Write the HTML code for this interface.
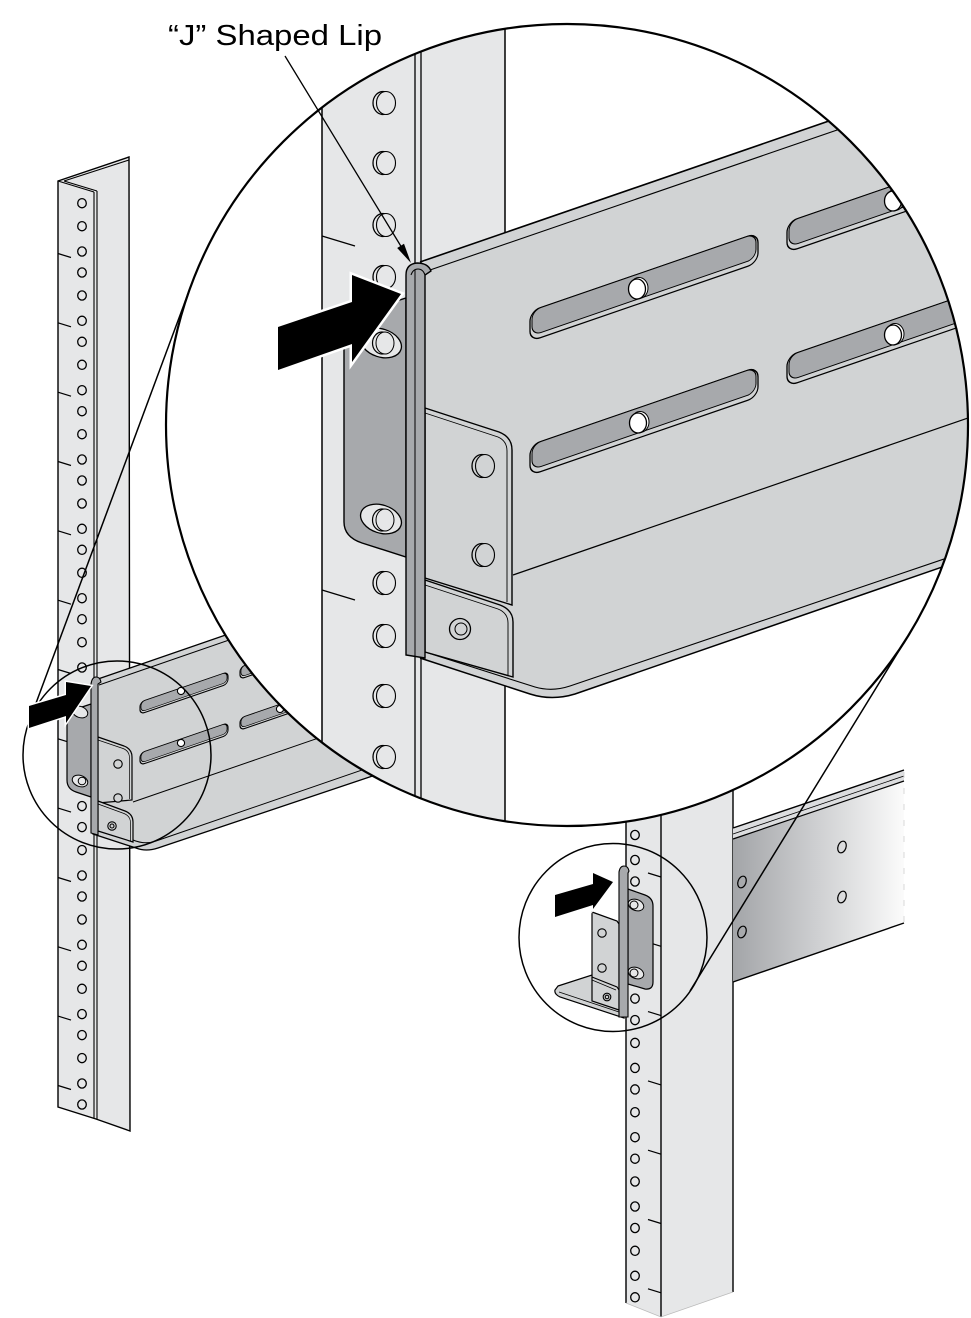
<!DOCTYPE html>
<html><head><meta charset="utf-8">
<style>html,body{margin:0;padding:0;background:#fff;}svg{display:block}</style></head>
<body>
<svg width="971" height="1318" viewBox="0 0 971 1318" xmlns="http://www.w3.org/2000/svg">
<defs>
<clipPath id="bc"><circle cx="567" cy="425" r="401"/></clipPath>
<linearGradient id="rg" x1="0" x2="1" y1="0" y2="0">
<stop offset="0" stop-color="#a3a5a8"/><stop offset="0.5" stop-color="#cfd0d2"/><stop offset="1" stop-color="#fbfbfb"/>
</linearGradient>
</defs>
<rect width="971" height="1318" fill="#fff"/>

<!-- LEFT POST -->
<polygon points="58,181 129,157 130,1131 96,1119 58,1107" fill="#e6e7e8" stroke="#000" stroke-width="1.4"/>
<g stroke="#000" fill="none" stroke-width="1.1">
<line x1="64" y1="181" x2="129" y2="160"/>
<line x1="58" y1="181" x2="94" y2="192"/>
<line x1="64" y1="181" x2="97" y2="191"/>
<line x1="94" y1="192" x2="94" y2="1118"/>
<line x1="97" y1="191" x2="97" y2="1119"/>
</g>
<g stroke="#000" fill="none" stroke-width="1.3">
<ellipse cx="82" cy="203.2" rx="4.3" ry="4.6"/><ellipse cx="82" cy="226.2" rx="4.3" ry="4.6"/>
<ellipse cx="82" cy="251.5" rx="4.3" ry="4.6"/><ellipse cx="82" cy="272.5" rx="4.3" ry="4.6"/><ellipse cx="82" cy="295.5" rx="4.3" ry="4.6"/>
<ellipse cx="82" cy="320.8" rx="4.3" ry="4.6"/><ellipse cx="82" cy="341.8" rx="4.3" ry="4.6"/><ellipse cx="82" cy="364.8" rx="4.3" ry="4.6"/>
<ellipse cx="82" cy="390.2" rx="4.3" ry="4.6"/><ellipse cx="82" cy="411.2" rx="4.3" ry="4.6"/><ellipse cx="82" cy="434.2" rx="4.3" ry="4.6"/>
<ellipse cx="82" cy="459.5" rx="4.3" ry="4.6"/><ellipse cx="82" cy="480.5" rx="4.3" ry="4.6"/><ellipse cx="82" cy="503.5" rx="4.3" ry="4.6"/>
<ellipse cx="82" cy="528.8" rx="4.3" ry="4.6"/><ellipse cx="82" cy="549.8" rx="4.3" ry="4.6"/><ellipse cx="82" cy="572.8" rx="4.3" ry="4.6"/>
<ellipse cx="82" cy="598.2" rx="4.3" ry="4.6"/><ellipse cx="82" cy="619.2" rx="4.3" ry="4.6"/><ellipse cx="82" cy="642.2" rx="4.3" ry="4.6"/>
<ellipse cx="82" cy="667.5" rx="4.3" ry="4.6"/><ellipse cx="82" cy="688.5" rx="4.3" ry="4.6"/><ellipse cx="82" cy="711.5" rx="4.3" ry="4.6"/>
<ellipse cx="82" cy="736.8" rx="4.3" ry="4.6"/><ellipse cx="82" cy="757.8" rx="4.3" ry="4.6"/><ellipse cx="82" cy="780.8" rx="4.3" ry="4.6"/>
<ellipse cx="82" cy="806.1" rx="4.3" ry="4.6"/><ellipse cx="82" cy="827.1" rx="4.3" ry="4.6"/><ellipse cx="82" cy="850.1" rx="4.3" ry="4.6"/>
<ellipse cx="82" cy="875.5" rx="4.3" ry="4.6"/><ellipse cx="82" cy="896.5" rx="4.3" ry="4.6"/><ellipse cx="82" cy="919.5" rx="4.3" ry="4.6"/>
<ellipse cx="82" cy="944.8" rx="4.3" ry="4.6"/><ellipse cx="82" cy="965.8" rx="4.3" ry="4.6"/><ellipse cx="82" cy="988.8" rx="4.3" ry="4.6"/>
<ellipse cx="82" cy="1014.1" rx="4.3" ry="4.6"/><ellipse cx="82" cy="1035.1" rx="4.3" ry="4.6"/><ellipse cx="82" cy="1058.1" rx="4.3" ry="4.6"/>
<ellipse cx="82" cy="1083.5" rx="4.3" ry="4.6"/><ellipse cx="82" cy="1104.5" rx="4.3" ry="4.6"/>
</g>
<g stroke="#000" stroke-width="1.2">
<line x1="58" y1="253.5" x2="71" y2="257.5"/><line x1="58" y1="322.8" x2="71" y2="326.8"/>
<line x1="58" y1="392.2" x2="71" y2="396.2"/><line x1="58" y1="461.5" x2="71" y2="465.5"/>
<line x1="58" y1="530.8" x2="71" y2="534.8"/><line x1="58" y1="600.2" x2="71" y2="604.2"/>
<line x1="58" y1="669.5" x2="71" y2="673.5"/><line x1="58" y1="738.8" x2="71" y2="742.8"/>
<line x1="58" y1="808.1" x2="71" y2="812.1"/><line x1="58" y1="877.5" x2="71" y2="881.5"/>
<line x1="58" y1="946.8" x2="71" y2="950.8"/><line x1="58" y1="1016.1" x2="71" y2="1020.1"/>
<line x1="58" y1="1085.5" x2="71" y2="1089.5"/>
</g>

<!-- LEFT SMALL RAIL -->
<path d="M98,679 L420,568 L420,760 L158,848 Q146,852 136,848 L93,834 Z" fill="#d1d3d4" stroke="#000" stroke-width="1.3"/>
<g stroke="#000" fill="none" stroke-width="1">
<line x1="99" y1="685" x2="420" y2="574"/>
<line x1="133" y1="802" x2="420" y2="703"/>
<path d="M98,829 L133,840 Q145,845 156,841 L420,750"/>
</g>
<g stroke="#000" stroke-width="1.1">
<g transform="translate(184,693) skewY(-19)"><rect x="-44" y="-6" width="88" height="12" rx="4.5" fill="#d1d3d4"/><rect x="-43" y="-6" width="86" height="10" rx="4" fill="#a7a9ac" stroke-width="0.7"/></g>
<g transform="translate(184,744) skewY(-19)"><rect x="-44" y="-6" width="88" height="12" rx="4.5" fill="#d1d3d4"/><rect x="-43" y="-6" width="86" height="10" rx="4" fill="#a7a9ac" stroke-width="0.7"/></g>
<g transform="translate(284,658) skewY(-19)"><rect x="-44" y="-6" width="88" height="12" rx="4.5" fill="#d1d3d4"/><rect x="-43" y="-6" width="86" height="10" rx="4" fill="#a7a9ac" stroke-width="0.7"/></g>
<g transform="translate(284,709) skewY(-19)"><rect x="-44" y="-6" width="88" height="12" rx="4.5" fill="#d1d3d4"/><rect x="-43" y="-6" width="86" height="10" rx="4" fill="#a7a9ac" stroke-width="0.7"/></g>
<circle cx="181" cy="691" r="3.6" fill="#fff"/><circle cx="181" cy="743" r="3.6" fill="#fff"/><circle cx="280" cy="709" r="3.6" fill="#fff"/>
</g>
<!-- ear -->
<path d="M67,712 L91,704 L91,797 L76,792 Q67,789 67,780 Z" fill="#a7a9ac" stroke="#000" stroke-width="1.2"/>
<ellipse cx="80" cy="781" rx="8" ry="5.5" transform="rotate(20 80 781)" fill="#e6e7e8" stroke="#000" stroke-width="1"/>
<circle cx="82" cy="781" r="3.8" fill="#e6e7e8" stroke="#000" stroke-width="1"/>
<ellipse cx="80" cy="712" rx="8" ry="5.5" transform="rotate(20 80 712)" fill="#e6e7e8" stroke="#000" stroke-width="1"/>
<!-- plates -->
<path d="M98,737 L124,746 Q132,749 132,757 L132,800 L98,803 Z" fill="#d1d3d4" stroke="#000" stroke-width="1.2"/>
<path d="M98,740 L123,748.5 Q129.5,751 129.5,758 L129.5,799" fill="none" stroke="#000" stroke-width="0.7"/>
<path d="M98,801 L125,811 Q133,814 133,822 L133,842 L98,831 Z" fill="#d1d3d4" stroke="#000" stroke-width="1.2"/>
<path d="M98,804 L124,813.5 Q130.5,816 130.5,823 L130.5,841" fill="none" stroke="#000" stroke-width="0.7"/>
<g stroke="#000" stroke-width="1.1" fill="#d1d3d4">
<circle cx="118" cy="764" r="4.2"/><circle cx="118" cy="798" r="4.2"/>
<circle cx="112" cy="826" r="4.2"/><circle cx="112" cy="826" r="2" fill="none"/>
</g>
<!-- lip -->
<path d="M91,833 L91,684 Q92,677 96,677 Q100,677 101,682 L98,684 L98,835 Z" fill="#a7a9ac" stroke="#000" stroke-width="1.1"/>

<!-- RIGHT POST -->
<path d="M626,780 L661,780 L661,1317 L626,1303 Z" fill="#e6e7e8"/>
<path d="M661,780 L733,780 L733,1292 L661,1317 Z" fill="#e6e7e8"/>
<g stroke="#000" stroke-width="1.4" fill="none">
<line x1="626" y1="780" x2="626" y2="1303"/>
<line x1="661" y1="780" x2="661" y2="1317"/>
<line x1="733" y1="780" x2="733" y2="1292"/>
<polyline points="626,1303 661,1317 733,1292" stroke="#bbb" stroke-width="0.8"/>
</g>
<g stroke="#000" fill="none" stroke-width="1.3">
<ellipse cx="635" cy="835" rx="4.3" ry="4.6"/><ellipse cx="635" cy="860" rx="4.3" ry="4.6"/><ellipse cx="635" cy="881.5" rx="4.3" ry="4.6"/>
<ellipse cx="635" cy="904.3" rx="4.3" ry="4.6"/><ellipse cx="635" cy="929.3" rx="4.3" ry="4.6"/><ellipse cx="635" cy="950.8" rx="4.3" ry="4.6"/>
<ellipse cx="635" cy="973.6" rx="4.3" ry="4.6"/><ellipse cx="635" cy="998.6" rx="4.3" ry="4.6"/><ellipse cx="635" cy="1020.1" rx="4.3" ry="4.6"/>
<ellipse cx="635" cy="1042.9" rx="4.3" ry="4.6"/><ellipse cx="635" cy="1067.9" rx="4.3" ry="4.6"/><ellipse cx="635" cy="1089.4" rx="4.3" ry="4.6"/>
<ellipse cx="635" cy="1112.2" rx="4.3" ry="4.6"/><ellipse cx="635" cy="1137.2" rx="4.3" ry="4.6"/><ellipse cx="635" cy="1158.7" rx="4.3" ry="4.6"/>
<ellipse cx="635" cy="1181.5" rx="4.3" ry="4.6"/><ellipse cx="635" cy="1206.5" rx="4.3" ry="4.6"/><ellipse cx="635" cy="1228" rx="4.3" ry="4.6"/>
<ellipse cx="635" cy="1250.8" rx="4.3" ry="4.6"/><ellipse cx="635" cy="1275.8" rx="4.3" ry="4.6"/><ellipse cx="635" cy="1297.3" rx="4.3" ry="4.6"/>
</g>
<g stroke="#000" stroke-width="1.2">
<line x1="648" y1="873" x2="661" y2="877"/><line x1="648" y1="942.3" x2="661" y2="946.3"/>
<line x1="648" y1="1011.6" x2="661" y2="1015.6"/><line x1="648" y1="1080.9" x2="661" y2="1084.9"/>
<line x1="648" y1="1150.2" x2="661" y2="1154.2"/><line x1="648" y1="1219.5" x2="661" y2="1223.5"/>
<line x1="648" y1="1288.8" x2="661" y2="1292.8"/>
</g>

<!-- RIGHT RAIL -->
<polygon points="733,828 904,770 904,923 733,982" fill="url(#rg)"/>
<polygon points="733,828 904,770 904,781 733,839" fill="#dcdddf"/>
<g stroke="#000" fill="none">
<line x1="733" y1="828" x2="904" y2="770" stroke-width="1.4"/>
<line x1="733" y1="834" x2="904" y2="776" stroke-width="0.8"/>
<line x1="733" y1="839" x2="904" y2="781" stroke-width="1.2"/>
<line x1="733" y1="982" x2="904" y2="923" stroke-width="1.4"/>
<line x1="904" y1="772" x2="904" y2="923" stroke="#d8d8d8" stroke-width="1" stroke-dasharray="6,10"/>
</g>
<g stroke="#000" fill="none" stroke-width="1.2">
<ellipse cx="742" cy="882" rx="4" ry="6" transform="rotate(20 742 882)"/>
<ellipse cx="742" cy="932" rx="4" ry="6" transform="rotate(20 742 932)"/>
<ellipse cx="842" cy="847" rx="4" ry="6" transform="rotate(20 842 847)"/>
<ellipse cx="842" cy="897" rx="4" ry="6" transform="rotate(20 842 897)"/>
</g>

<!-- SMALL RIGHT BRACKET -->
<path d="M558,986 L592,975 L622,985 L624,1018 L560,997 Q554,994 555,990 Z" fill="#d1d3d4" stroke="#000" stroke-width="1.2"/>
<line x1="559" y1="992" x2="622" y2="1013" stroke="#000" stroke-width="0.8"/>
<path d="M592,912 L617,921 L619,924 L619,1010 L592,1001 Z" fill="#d1d3d4" stroke="#000" stroke-width="1.2"/>
<path d="M592,977 L617,987 L619,990" fill="none" stroke="#000" stroke-width="1.1"/>
<path d="M592,980 L616,990" fill="none" stroke="#000" stroke-width="0.7"/>
<g stroke="#000" stroke-width="1.1" fill="#d1d3d4">
<circle cx="602" cy="933" r="4.2"/><circle cx="602" cy="968" r="4.2"/>
<circle cx="607" cy="997" r="3.8"/><circle cx="607" cy="997" r="1.8" fill="none"/>
</g>
<path d="M628,889 L645,895 Q653,898 653,906 L653,982 Q653,990 645,989 L628,984 Z" fill="#a7a9ac" stroke="#000" stroke-width="1.2"/>
<ellipse cx="636" cy="905" rx="8" ry="5.5" transform="rotate(20 636 905)" fill="#e6e7e8" stroke="#000" stroke-width="1"/>
<circle cx="634" cy="905" r="4" fill="#e6e7e8" stroke="#000" stroke-width="1"/>
<ellipse cx="636" cy="973" rx="8" ry="5.5" transform="rotate(20 636 973)" fill="#e6e7e8" stroke="#000" stroke-width="1"/>
<circle cx="634" cy="973" r="4" fill="#e6e7e8" stroke="#000" stroke-width="1"/>
<path d="M619,1017 L619,872 Q620,866 624,866 Q628,866 629,871 L628,873 L628,1017 Z" fill="#a7a9ac" stroke="#000" stroke-width="1.1"/>

<!-- BIG CIRCLE CONTENT -->
<g clip-path="url(#bc)">
<rect x="160" y="20" width="820" height="815" fill="#fff"/>
<rect x="322" y="0" width="183" height="900" fill="#e6e7e8"/>
<g stroke="#000" stroke-width="1.5">
<line x1="322" y1="0" x2="322" y2="900"/>
<line x1="415" y1="0" x2="415" y2="900" stroke-width="1.3"/>
<line x1="421" y1="0" x2="421" y2="900" stroke-width="1.3"/>
<line x1="505" y1="0" x2="505" y2="900"/>
<line x1="322" y1="236" x2="355" y2="246" stroke-width="1.3"/>
<line x1="322" y1="590" x2="355" y2="600" stroke-width="1.3"/>
</g>
<g stroke="#000" fill="#e6e7e8">
<ellipse cx="383" cy="103" rx="10" ry="11.5" stroke-width="1.3"/><ellipse cx="386" cy="103" rx="9.5" ry="11.5" stroke-width="1.1"/>
<ellipse cx="383" cy="163" rx="10" ry="11.5" stroke-width="1.3"/><ellipse cx="386" cy="163" rx="9.5" ry="11.5" stroke-width="1.1"/>
<ellipse cx="383" cy="225" rx="10" ry="11.5" stroke-width="1.3"/><ellipse cx="386" cy="225" rx="9.5" ry="11.5" stroke-width="1.1"/>
<ellipse cx="383" cy="277" rx="10" ry="11.5" stroke-width="1.3"/><ellipse cx="386" cy="277" rx="9.5" ry="11.5" stroke-width="1.1"/>
<ellipse cx="383" cy="583" rx="10" ry="11.5" stroke-width="1.3"/><ellipse cx="386" cy="583" rx="9.5" ry="11.5" stroke-width="1.1"/>
<ellipse cx="383" cy="636" rx="10" ry="11.5" stroke-width="1.3"/><ellipse cx="386" cy="636" rx="9.5" ry="11.5" stroke-width="1.1"/>
<ellipse cx="383" cy="696" rx="10" ry="11.5" stroke-width="1.3"/><ellipse cx="386" cy="696" rx="9.5" ry="11.5" stroke-width="1.1"/>
<ellipse cx="383" cy="757" rx="10" ry="11.5" stroke-width="1.3"/><ellipse cx="386" cy="757" rx="9.5" ry="11.5" stroke-width="1.1"/>
</g>
<!-- ear -->
<path d="M344,318 L406,298 L406,557 L362,543 Q344,537 344,522 Z" fill="#a7a9ac" stroke="#000" stroke-width="1.4"/>
<g stroke="#000" fill="#e6e7e8">
<ellipse cx="381" cy="343" rx="21" ry="14" transform="rotate(18 381 343)" stroke-width="1.3"/>
<ellipse cx="382" cy="343" rx="9.5" ry="11" stroke-width="1.2"/><ellipse cx="385" cy="343" rx="9" ry="11" stroke-width="1"/>
<ellipse cx="381" cy="519" rx="21" ry="14" transform="rotate(18 381 519)" stroke-width="1.3"/>
<ellipse cx="382" cy="520" rx="9.5" ry="11" stroke-width="1.2"/><ellipse cx="385" cy="520" rx="9" ry="11" stroke-width="1"/>
</g>
<!-- rail body -->
<path d="M425,260 L1000,62 L1000,600 L945,567 L575,694 Q552,701 530,694 L420,658 Z" fill="#d1d3d4"/>
<g stroke="#000" fill="none">
<line x1="420" y1="262" x2="1000" y2="62" stroke-width="1.6"/>
<line x1="430" y1="270" x2="1000" y2="74" stroke-width="1.1"/>
<line x1="513" y1="575" x2="1000" y2="407" stroke-width="1.2"/>
<path d="M425,652 L535,687 Q552,692 570,686 L1000,540" stroke-width="1.1"/>
<path d="M420,658 L530,694 Q552,701 575,694 L1000,547" stroke-width="1.5"/>
</g>
<g stroke="#000">
<g transform="translate(644,287) skewY(-19)"><rect x="-114" y="-15" width="228" height="30" rx="10" fill="#d1d3d4" stroke-width="1.3"/><rect x="-112" y="-15" width="224" height="25" rx="9" fill="#a7a9ac" stroke-width="1"/></g>
<g transform="translate(644,421) skewY(-19)"><rect x="-114" y="-15" width="228" height="30" rx="10" fill="#d1d3d4" stroke-width="1.3"/><rect x="-112" y="-15" width="224" height="25" rx="9" fill="#a7a9ac" stroke-width="1"/></g>
<g transform="translate(901,198) skewY(-19)"><rect x="-114" y="-15" width="228" height="30" rx="10" fill="#d1d3d4" stroke-width="1.3"/><rect x="-112" y="-15" width="224" height="25" rx="9" fill="#a7a9ac" stroke-width="1"/></g>
<g transform="translate(901,332) skewY(-19)"><rect x="-114" y="-15" width="228" height="30" rx="10" fill="#d1d3d4" stroke-width="1.3"/><rect x="-112" y="-15" width="224" height="25" rx="9" fill="#a7a9ac" stroke-width="1"/></g>
<ellipse cx="639" cy="288" rx="9" ry="10.5" fill="#fff" stroke-width="1"/><ellipse cx="637" cy="289" rx="8.5" ry="10" fill="#fff" stroke-width="1.3"/>
<ellipse cx="640" cy="422" rx="9" ry="10.5" fill="#fff" stroke-width="1"/><ellipse cx="638" cy="423" rx="8.5" ry="10" fill="#fff" stroke-width="1.3"/>
<ellipse cx="895" cy="200" rx="9" ry="10.5" fill="#fff" stroke-width="1"/><ellipse cx="893" cy="201" rx="8.5" ry="10" fill="#fff" stroke-width="1.3"/>
<ellipse cx="895" cy="334" rx="9" ry="10.5" fill="#fff" stroke-width="1"/><ellipse cx="893" cy="335" rx="8.5" ry="10" fill="#fff" stroke-width="1.3"/>
</g>
<!-- plates -->
<path d="M425,408 L499,432 Q512,437 512,450 L512,605 L425,578 Z" fill="#d1d3d4" stroke="#000" stroke-width="1.4"/>
<path d="M425,413 L498,437 Q507,441 507,451 L507,602" fill="none" stroke="#000" stroke-width="0.9"/>
<path d="M425,580 L500,605 Q513,610 513,622 L513,677 L425,652 Z" fill="#d1d3d4" stroke="#000" stroke-width="1.4"/>
<path d="M425,585 L498,609 Q508,613 508,623 L508,675" fill="none" stroke="#000" stroke-width="0.9"/>
<g stroke="#000" fill="#d1d3d4">
<ellipse cx="482" cy="466" rx="10" ry="11.5" stroke-width="1.3"/><ellipse cx="485" cy="466" rx="9.5" ry="11.5" stroke-width="1.1"/>
<ellipse cx="482" cy="555" rx="10" ry="11.5" stroke-width="1.3"/><ellipse cx="485" cy="555" rx="9.5" ry="11.5" stroke-width="1.1"/>
<circle cx="460" cy="629" r="10.5" stroke-width="1.3"/><circle cx="461" cy="629" r="6" stroke-width="1"/>
</g>
<!-- lip -->
<path d="M406,655 L406,275 Q406,264 417,263 Q428,263 431,271 L425,275 L425,658 Z" fill="#a7a9ac" stroke="#000" stroke-width="1.4"/>
<line x1="415" y1="270" x2="415" y2="656" stroke="#000" stroke-width="1"/>
<path d="M411,275 Q413,269 418,269 Q423,269 425,275" fill="none" stroke="#000" stroke-width="1"/>
<!-- big arrow -->
<polygon points="278,327 352,302 352,275 401,294 352,362 352,344 278,370" fill="#000" stroke="#fff" stroke-width="5" stroke-linejoin="miter" paint-order="stroke"/>
</g>
<circle cx="567" cy="425" r="401" fill="none" stroke="#000" stroke-width="2.2"/>

<!-- small circles & connectors -->
<g fill="none" stroke="#000" stroke-width="1.5">
<circle cx="117" cy="755" r="94"/>
<circle cx="613" cy="937.5" r="94"/>
<line x1="28.9" y1="722.3" x2="191.1" y2="285.4"/>
<line x1="690" y1="991" x2="908.9" y2="634.5"/>
</g>

<!-- small arrows -->
<polygon points="29,706 66,695 66,682 91,686 66,723 66,716 29,728" fill="#000" stroke="#fff" stroke-width="3" paint-order="stroke"/>
<polygon points="555,895 593,884 593,873 613,882 593,909 593,905 555,917" fill="#000" stroke="#fff" stroke-width="3" paint-order="stroke"/>

<!-- label -->
<text x="168" y="45" font-family="Liberation Sans, Arial, sans-serif" font-size="29" textLength="214" lengthAdjust="spacingAndGlyphs" fill="#000">“J” Shaped Lip</text>
<line x1="285" y1="56" x2="402" y2="248" stroke="#000" stroke-width="1.3"/>
<polygon points="411,263 404,243.8 397.2,248" fill="#000"/>
</svg>
</body></html>
